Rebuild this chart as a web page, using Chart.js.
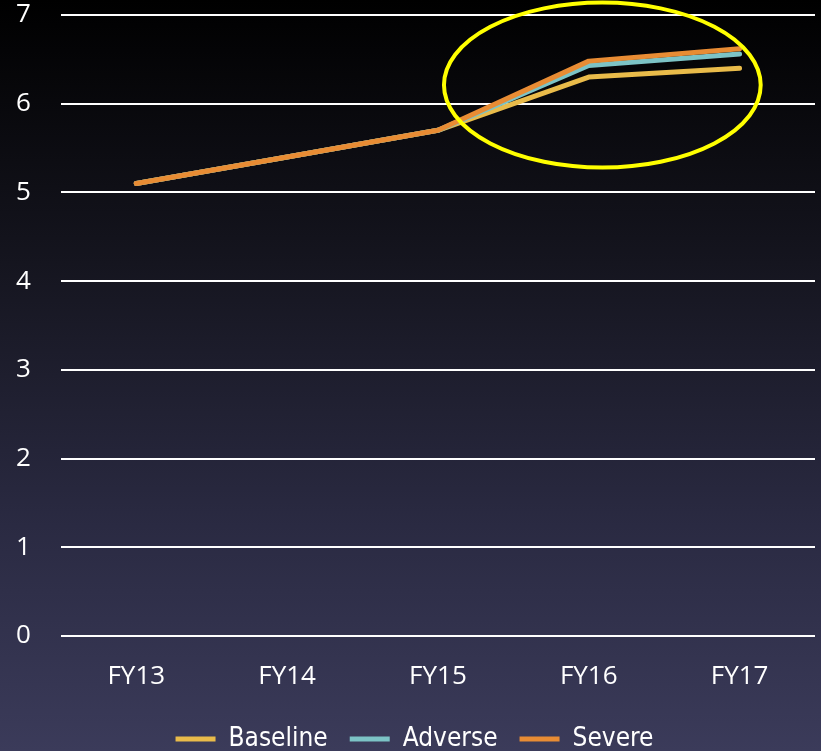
<!DOCTYPE html>
<html>
<head>
<meta charset="utf-8">
<script src="https://cdn.jsdelivr.net/npm/chart.js@4"></script>
<style>
  html, body { margin: 0; padding: 0; }
  body {
    width: 821px; height: 751px; overflow: hidden;
    background: linear-gradient(to bottom, #000000 0%, #15151f 35%, #2a2a42 70%, #3b3b5a 100%);
  }
  #wrap { width: 821px; height: 751px; }
</style>
</head>
<body>
<div id="wrap"><canvas id="chart"></canvas></div>
<script>
// --- data ---
const labels = ["FY13", "FY14", "FY15", "FY16", "FY17"];
const baseline = [5.1, 5.4, 5.7, 6.3, 6.4];
const adverse  = [5.1, 5.4, 5.7, 6.43, 6.56];
const severe   = [5.1, 5.4, 5.7, 6.48, 6.62];
const yTicks = [0, 1, 2, 3, 4, 5, 6, 7];

// yellow highlight ellipse (centre in data units, radii in category / value units)
const ring = { x: 3.09, y: 6.21, rx: 1.05, ry: 0.93 };

const ringPlugin = {
  id: "ring",
  afterDatasetsDraw(chart) {
    const { ctx, scales: { x, y } } = chart;
    const cx = x.getPixelForValue(ring.x);
    const cy = y.getPixelForValue(ring.y);
    const step = x.getPixelForValue(1) - x.getPixelForValue(0);
    const rx = ring.rx * step;
    const ry = Math.abs(y.getPixelForValue(ring.y + ring.ry) - cy);
    ctx.save();
    ctx.beginPath();
    ctx.ellipse(cx, cy, rx, ry, 0, 0, Math.PI * 2);
    ctx.strokeStyle = "#ffff00";
    ctx.lineWidth = 4;
    ctx.stroke();
    ctx.restore();
  }
};

function line(label, data, color, order) {
  return {
    label, data, order,
    borderColor: color,
    backgroundColor: color,
    borderWidth: 5,
    borderCapStyle: "round",
    borderJoinStyle: "round",
    pointRadius: 0,
    pointHoverRadius: 0,
    pointStyle: "line",
    tension: 0
  };
}

const tickFont = { family: "'Open Sans', sans-serif", size: 26, lineHeight: 1 };

new Chart(document.getElementById("chart"), {
  type: "line",
  data: {
    labels,
    datasets: [
      line("Baseline", baseline, "#e9bb4a", 2),
      line("Adverse", adverse, "#7cc3c6", 1),
      line("Severe", severe, "#e88c34", 0)
    ]
  },
  options: {
    responsive: true,
    maintainAspectRatio: false,
    animation: false,
    layout: { padding: { left: 14, right: 6, top: 1, bottom: -11 } },
    scales: {
      x: {
        offset: true,
        grid: { display: false, drawTicks: true, tickLength: 20, tickColor: "rgba(0,0,0,0)" },
        border: { display: false },
        ticks: { color: "#ffffff", padding: 8, font: tickFont },
        afterFit(axis) { axis.height = 68; }
      },
      y: {
        min: 0, max: 7,
        afterBuildTicks(axis) { axis.ticks = yTicks.map(v => ({ value: v })); },
        grid: { color: "#ffffff", lineWidth: 2, drawTicks: true, tickLength: 28, tickColor: "rgba(0,0,0,0)" },
        border: { display: false },
        ticks: { color: "#ffffff", padding: 2, font: tickFont }
      }
    },
    plugins: {
      tooltip: { enabled: false },
      legend: {
        position: "bottom",
        labels: {
          color: "#ffffff",
          usePointStyle: true,
          pointStyleWidth: 40,
          boxHeight: 5,
          padding: 22,
          font: { family: "'DejaVu Sans Condensed', 'Liberation Sans', sans-serif", size: 26, lineHeight: 1 },
          sort: (a, b) => a.datasetIndex - b.datasetIndex
        }
      }
    }
  },
  plugins: [ringPlugin]
});
</script>
</body>
</html>
